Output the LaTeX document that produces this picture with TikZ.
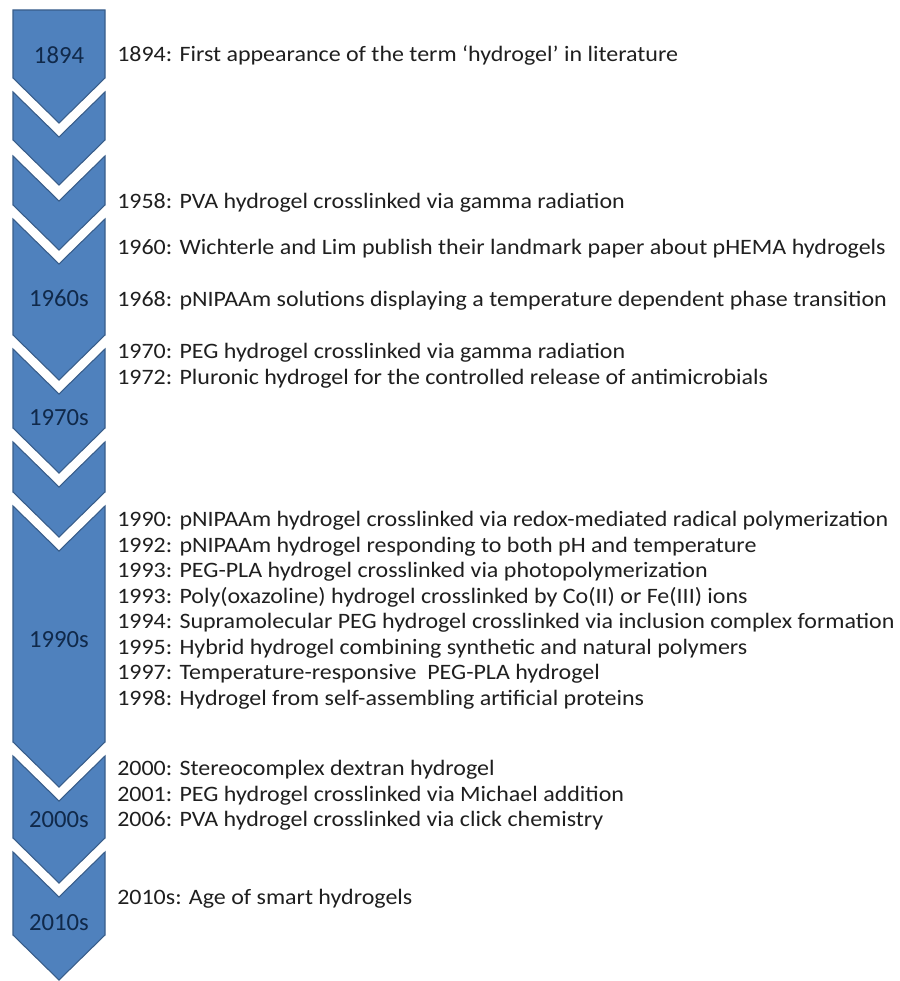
\documentclass[tikz,border=0pt]{standalone}
\usepackage{fontspec}
\setmainfont{Carlito}
\usetikzlibrary{positioning}
\definecolor{chevblue}{HTML}{4F81BD}
\definecolor{chevline}{HTML}{385D8A}
\definecolor{yeartxt}{HTML}{10294A}
\tikzset{
  chev/.style={fill=chevblue, draw=chevline, line width=0.8pt},
  yearlbl/.style={text=yeartxt, font=\fontsize{18.5}{20}\selectfont, inner sep=0pt},
  evt/.style={anchor=west, text=black!88, font=\fontsize{16.5}{18}\selectfont\addfontfeature{FakeStretch=1.09},
    inner sep=0pt, text height=11.5pt, text depth=1.5pt},
}
% chevron from top edge #1 to bottom edge #2 (pixel rows)
\newcommand{\chevron}[2]{%
  \draw[chev] (13,#1) -- (59,#1+45) -- (105,#1) -- (105,#2) -- (59,#2+45) -- (13,#2) -- cycle;}

\begin{document}
\begin{tikzpicture}[x=0.75pt, y=-0.75pt, node distance=5.75pt]
  \useasboundingbox (0,0) rectangle (899,981);
  % left column of chevrons
  \draw[chev] (13,10) -- (105,10) -- (105,78) -- (59,123) -- (13,78) -- cycle;
  \chevron{92}{140}
  \chevron{156}{205}
  \chevron{219}{335}
  \chevron{349}{428}
  \chevron{442}{492}
  \chevron{506}{742}
  \chevron{756}{838}
  \chevron{852}{935}
  % decade labels
  \node[yearlbl] (y1894) at (59,55) {1894};
  \node[yearlbl] (y1960) at (59,298) {1960s};
  \node[yearlbl] (y1970) at (59,418) {1970s};
  \node[yearlbl] (y1990) at (59,640) {1990s};
  \node[yearlbl] (y2000) at (59,820) {2000s};
  \node[yearlbl] (y2010) at (59,923) {2010s};
  % events
  \node[evt] (e1894) at (117,55) {1894: First appearance of the term ‘hydrogel’ in literature};
  \node[evt] (e1958) at (117,202) {1958: PVA hydrogel crosslinked via gamma radiation};
  \node[evt] (e1960) at (117,248) {1960: Wichterle and Lim publish their landmark paper about pHEMA hydrogels};
  \node[evt] (e1968) at (117,300) {1968: pNIPAAm solutions displaying a temperature dependent phase transition};
  \node[evt] (e1970) at (117,352) {1970: PEG hydrogel crosslinked via gamma radiation};
  \node[evt, below=of e1970.south west, anchor=north west] (e1972) {1972: Pluronic hydrogel for the controlled release of antimicrobials};
  \node[evt] (e1990) at (117,520) {1990: pNIPAAm hydrogel crosslinked via redox-mediated radical polymerization};
  \node[evt, below=of e1990.south west, anchor=north west] (e1992) {1992: pNIPAAm hydrogel responding to both pH and temperature};
  \node[evt, below=of e1992.south west, anchor=north west] (e1993a) {1993: PEG-PLA hydrogel crosslinked via photopolymerization};
  \node[evt, below=of e1993a.south west, anchor=north west] (e1993b) {1993: Poly(oxazoline) hydrogel crosslinked by Co(II) or Fe(III) ions};
  \node[evt, below=of e1993b.south west, anchor=north west] (e1994) {1994: Supramolecular PEG hydrogel crosslinked via inclusion complex formation};
  \node[evt, below=of e1994.south west, anchor=north west] (e1995) {1995: Hybrid hydrogel combining synthetic and natural polymers};
  \node[evt, below=of e1995.south west, anchor=north west] (e1997) {1997: Temperature-responsive \ PEG-PLA hydrogel};
  \node[evt, below=of e1997.south west, anchor=north west] (e1998) {1998: Hydrogel from self-assembling artificial proteins};
  \node[evt] (e2000) at (117,769) {2000: Stereocomplex dextran hydrogel};
  \node[evt, below=of e2000.south west, anchor=north west] (e2001) {2001: PEG hydrogel crosslinked via Michael addition};
  \node[evt, below=of e2001.south west, anchor=north west] (e2006) {2006: PVA hydrogel crosslinked via click chemistry};
  \node[evt] (e2010) at (117,898) {2010s: Age of smart hydrogels};
\end{tikzpicture}
\end{document}
